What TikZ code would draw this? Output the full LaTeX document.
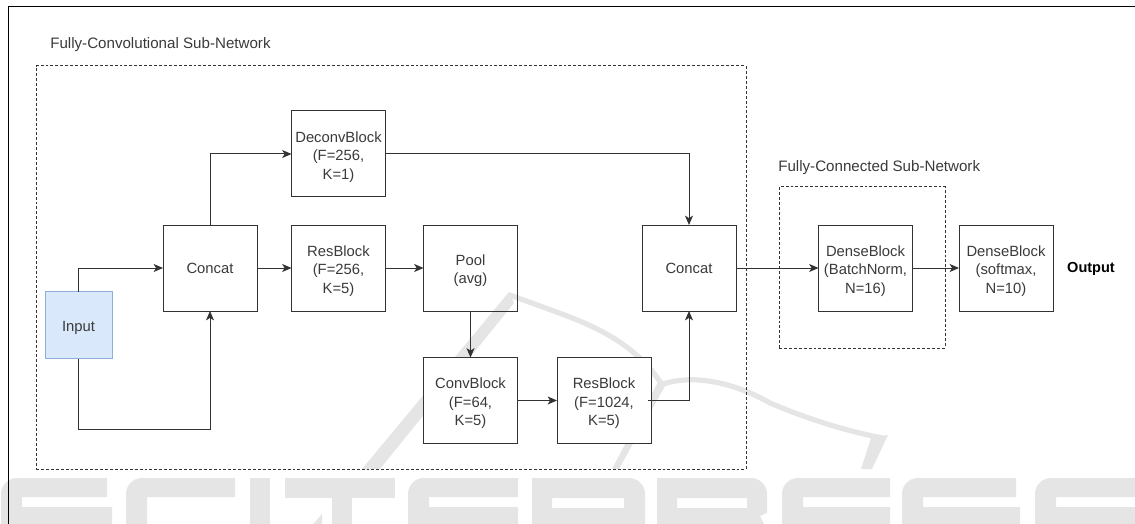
\documentclass[tikz,border=0pt]{standalone}
\usepackage{fontspec}
\setmainfont{Liberation Sans}
\usetikzlibrary{arrows.meta}
\definecolor{wmgray}{HTML}{E5E5E5}
\definecolor{boxline}{HTML}{333333}
\definecolor{txt}{HTML}{3A3A3A}
\definecolor{inputfill}{HTML}{DAE8FC}
\definecolor{inputline}{HTML}{8FAFD6}
\newcommand{\lowered}{\rule{0pt}{12.2pt}}
\newcommand{\wmE}[3]{\fill[wm] (#2,478) [rounded corners=12] -- (#1,478) [sharp corners] -- (#1,530) -- (#3,530) -- (#3,507) -- ({#1+21},507) -- ({#1+21},497) -- (#2,497) -- cycle;}
\newcommand{\wmC}[2]{\fill[wm] (#2,478) [rounded corners=12] -- (#1,478) [sharp corners] -- (#1,530) -- ({#1+21},530) -- ({#1+21},497) -- (#2,497) -- cycle;}
\newcommand{\wmP}[2]{\fill[wm,even odd rule] (#1,478) [rounded corners=12] -- (#2,478) [sharp corners] -- (#2,530) -- (#1,530) -- cycle ({#1+20},498) -- ({#2-21},498) -- ({#2-21},508) -- ({#1+20},508) -- cycle;}
\tikzset{
  wm/.style={fill=wmgray,draw=none},
  wmline/.style={draw=wmgray,line width=3.9pt,line cap=round},
  blockbox/.style={draw=boxline,line width=0.75pt,fill=white,text=txt,inner sep=0pt,outer sep=0pt,
    minimum width=70.5pt,minimum height=64.5pt,align=center,
    font=\fontsize{11.1}{13.9}\selectfont},
  openbox/.style={blockbox,fill=none},
  inputbox/.style={blockbox,fill=inputfill,draw=inputline,minimum width=50.25pt,minimum height=50.25pt},
  zone/.style={draw=boxline,line width=0.75pt,dash pattern=on 2.2pt off 1.5pt,inner sep=0pt,outer sep=0pt},
  caption/.style={text=txt,inner sep=0pt,anchor=west,font=\fontsize{11.35}{13}\selectfont},
  outlabel/.style={text=black,inner sep=0pt,yshift=-1pt,font=\bfseries\fontsize{10.9}{13}\selectfont},
  conn/.style={draw=boxline,line width=0.75pt,-{Stealth[length=7pt,width=6pt,inset=1.8pt]}},
}
\begin{document}
\begin{tikzpicture}[x=0.75pt,y=-0.75pt]
\useasboundingbox (0,0) rectangle (1135,524);
\begin{scope}
\clip (0,0) rectangle (1135,524);
% watermark letters
\wmE{1}{107}{112}
\wmC{126}{235}
\fill[wm] (250,478) rectangle (270,530);
\fill[wm] (285,478) rectangle (395,498);
\fill[wm] (332,478) rectangle (352,530);
\fill[wm] (322,514) -- (308,530) -- (322,530) -- cycle;
\wmE{408}{518}{518}
\wmP{532}{645}
\fill[wm,even odd rule] (657,478) [rounded corners=12] -- (767,478) [sharp corners] -- (767,513) -- (760,516) -- (767,530) -- (657,530) -- cycle (677,498) -- (747,498) -- (747,508) -- (677,508) -- cycle;
\wmE{782}{890}{890}
\wmE{902}{1016}{1020}
\wmE{1035}{1140}{1140}
% watermark logo
\fill[wm] (509,292) -- (362,469) -- (380,469) -- (514,303) -- cycle;
\draw[wmline] (510,295) .. controls (570,318) and (625,330) .. (661,383);
\fill[wm] (659,380) -- (612,469) -- (619,469) -- (665,386) -- cycle;
\draw[wmline] (663,384) .. controls (690,375) and (730,380) .. (770,403) .. controls (810,420) and (850,432) .. (883,438);
\fill[wm] (888,435) -- (872,469) -- (861,469) -- (871,438) -- cycle;
\end{scope}
% frame
\draw[black,line width=0.75pt] (8,524) -- (8,7) -- (1135,7);
% zones
\node[zone,minimum width=532.5pt,minimum height=302.25pt] (fcn) at (391,267.5) {};
\node[zone,minimum width=124.5pt,minimum height=120.75pt] (fc) at (862,267.5) {};
\node[caption] (fcnlabel) at (50,45) {Fully-Convolutional Sub-Network};
\node[caption] (fclabel) at (778,168) {Fully-Connected Sub-Network};
% blocks
\node[inputbox] (input) at (78.5,325) {\lowered Input};
\node[blockbox] (concatA) at (210,268) {Concat};
\node[blockbox] (deconv) at (338.5,154) {\lowered DeconvBlock\\(F=256,\\K=1)};
\node[blockbox] (resA) at (338.5,268) {\lowered ResBlock\\(F=256,\\K=5)};
\node[openbox] (pool) at (470.5,268) {\lowered Pool\\(avg)};
\node[blockbox] (conv) at (470.5,400.5) {\lowered ConvBlock\\(F=64,\\K=5)};
\node[blockbox] (resB) at (604,400.5) {\lowered ResBlock\\(F=1024,\\K=5)};
\node[blockbox] (concatB) at (689,268) {Concat};
\node[blockbox] (denseA) at (865.5,268) {\lowered DenseBlock\\(BatchNorm,\\N=16)};
\node[blockbox] (denseB) at (1006,268) {\lowered DenseBlock\\(softmax,\\N=10)};
\node[outlabel] (output) at (1091,268) {Output};
\coordinate (lowbend) at (78.5,429);
% connectors
\draw[conn] (input.north) |- (concatA.west);
\draw[conn] (input.south) -- (lowbend) -| (concatA.south);
\draw[conn] (concatA.north) |- (deconv.west);
\draw[conn] (deconv.east) -| (concatB.north);
\draw[conn] (concatA.east) -- (resA.west);
\draw[conn] (resA.east) -- (pool.west);
\draw[conn] (pool.south) -- (conv.north);
\draw[conn] (conv.east) -- (resB.west);
\draw[conn] ([xshift=-2pt]resB.east) -| (concatB.south);
\draw[conn] (concatB.east) -- (denseA.west);
\draw[conn] (denseA.east) -- (denseB.west);
\end{tikzpicture}
\end{document}
